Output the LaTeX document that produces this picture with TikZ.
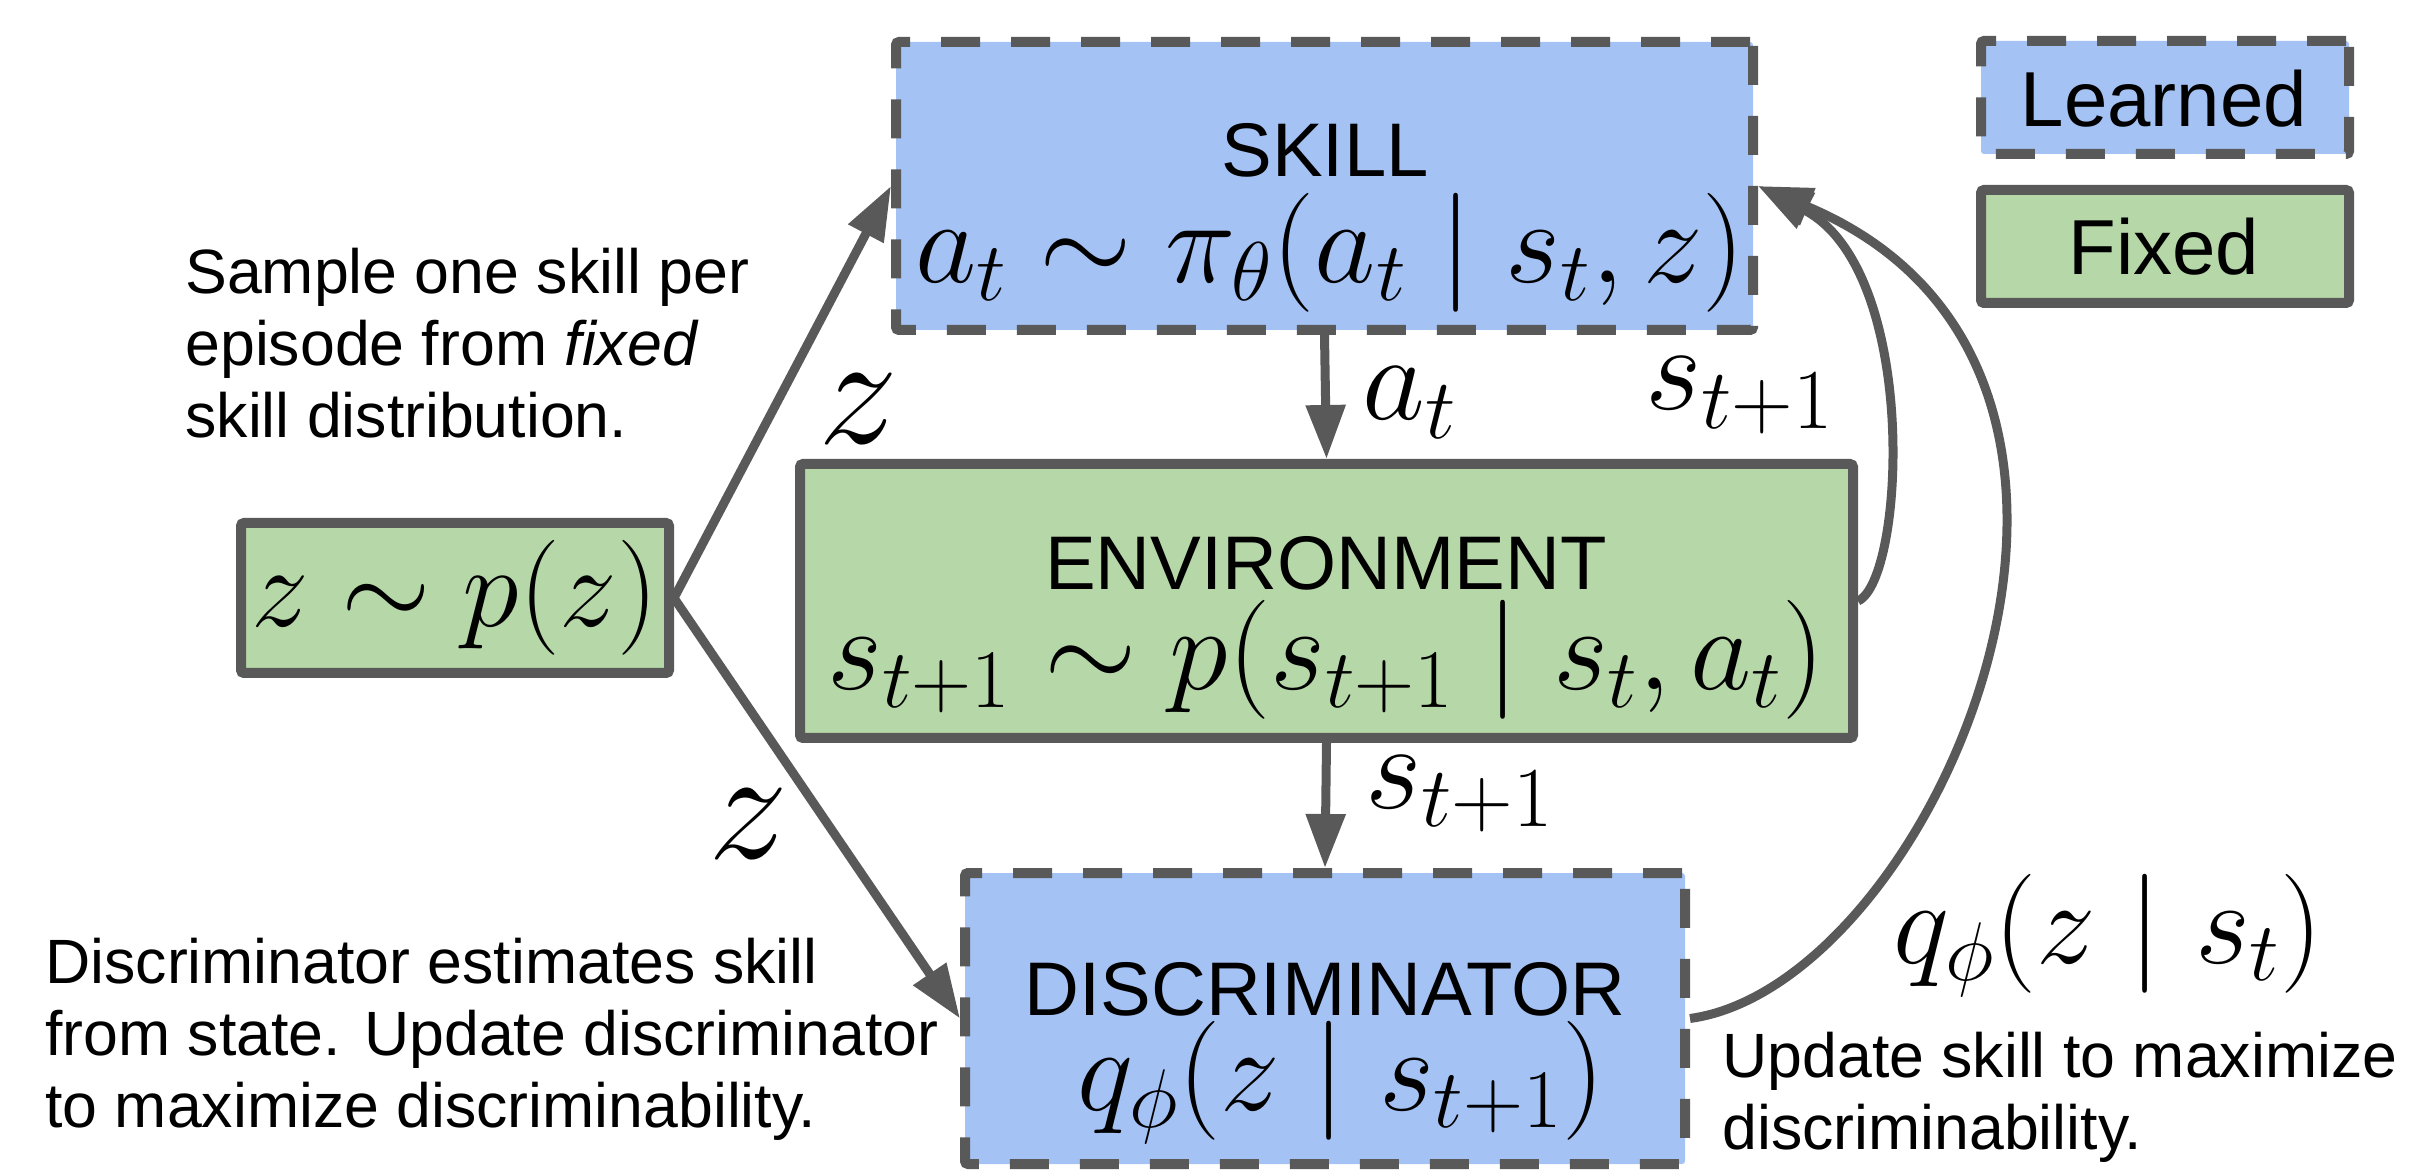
\RequirePackage{fix-cm}
\documentclass[tikz,border=0pt]{standalone}
\usepackage{fontspec}
\setmainfont{Liberation Sans}
\usetikzlibrary{arrows.meta}
\definecolor{lblue}{HTML}{A4C2F4}
\definecolor{lgreen}{HTML}{B6D7A8}
\definecolor{edgegray}{HTML}{595959}
\begin{document}
\begin{tikzpicture}[x=0.5pt,y=-0.5pt,
  box/.style={draw=edgegray, line width=5pt, rounded corners=1.5pt, inner sep=0pt},
  learnedbox/.style={box, fill=lblue, dash pattern=on 19.5pt off 15.5pt},
  fixedbox/.style={box, fill=lgreen},
  arr/.style={draw=edgegray, line width=4.5pt, -{Triangle[length=27pt,width=19pt]}},
  boxtitle/.style={font=\fontsize{38}{40}\selectfont, inner sep=0pt, anchor=base},
  legtitle/.style={font=\fontsize{39}{40}\selectfont, inner sep=0pt, anchor=base},
  mth/.style={font=\fontsize{59.5}{60}\selectfont, inner sep=0pt, anchor=base},
  lab/.style={font=\fontsize{61}{62}\selectfont, inner sep=0pt, anchor=base west},
  zlab/.style={font=\fontsize{80}{82}\selectfont, inner sep=0pt, anchor=base},
  note/.style={font=\fontsize{31.3}{36}\selectfont, align=left, inner sep=0pt, anchor=north west},
]
\useasboundingbox (0,0) rectangle (2411,1170);

% boxes
\node[learnedbox, minimum width=428.5pt, minimum height=144pt] (skill) at (1324.5,186) {};
\node[fixedbox, minimum width=526.5pt, minimum height=137pt] (env) at (1326.5,601) {};
\node[learnedbox, minimum width=360pt, minimum height=145.5pt] (disc) at (1325,1018.5) {};
\node[fixedbox, minimum width=214pt, minimum height=75pt] (prior) at (455,598) {};
\node[learnedbox, minimum width=184pt, minimum height=56.5pt] (leg1) at (2165,97.5) {};
\node[fixedbox, minimum width=184pt, minimum height=56.5pt] (leg2) at (2165,246.5) {};

% box texts
\node[boxtitle] (skillT) at (1325,177) {SKILL};
\node[mth] (skillM) at (1330,283) {$a_t \sim \pi_\theta(a_t \mid s_t, z)$};
\node[boxtitle] (envT) at (1326,590) {ENVIRONMENT};
\node[mth] (envM) at (1326,690) {$s_{t+1} \sim p(s_{t+1} \mid s_t, a_t)$};
\node[boxtitle] (discT) at (1325,1015) {DISCRIMINATOR};
\node[mth] (discM) at (1341,1110) {$q_\phi(z \mid s_{t+1})$};
\node[mth, font=\fontsize{57.5}{60}\selectfont] (priorM) at (455,627) {$z \sim p(z)$};
\node[legtitle] (leg1T) at (2164,127) {Learned};
\node[legtitle] (leg2T) at (2164,275) {Fixed};

% connectors
\draw[arr] (prior.east) -- (skill.west);
\draw[arr] (prior.east) -- (disc.west);
\draw[arr] (skill.south) -- (env.north);
\draw[arr] (env.south) -- (disc.north);
\draw[arr] (env.east) .. controls (1905,580) and (1920,270) .. (skill.east);
\draw[arr] (disc.east) .. controls (1935,985) and (2200,370) .. (skill.east);

% connector labels
\node[zlab] (zTop) at (858,444) {$z$};
\node[zlab] (zBot) at (748,858) {$z$};
\node[lab] (aLab) at (1362,420) {$a_t$};
\node[lab] (sLabA) at (1645,410) {$s_{t+1}$};
\node[lab] (sLabB) at (1365,808) {$s_{t+1}$};
\node[mth, anchor=base west] (qLab) at (1893,963) {$q_\phi(z \mid s_t)$};

% notes
\node[note] (noteA) at (185,248) {Sample one skill per\\episode from \textit{fixed}\\skill distribution.};
\node[note] (noteB) at (45,938) {Discriminator estimates skill\\from state. Update discriminator\\to maximize discriminability.};
\node[note] (noteC) at (1722,1032) {Update skill to maximize\\discriminability.};
\end{tikzpicture}
\end{document}
